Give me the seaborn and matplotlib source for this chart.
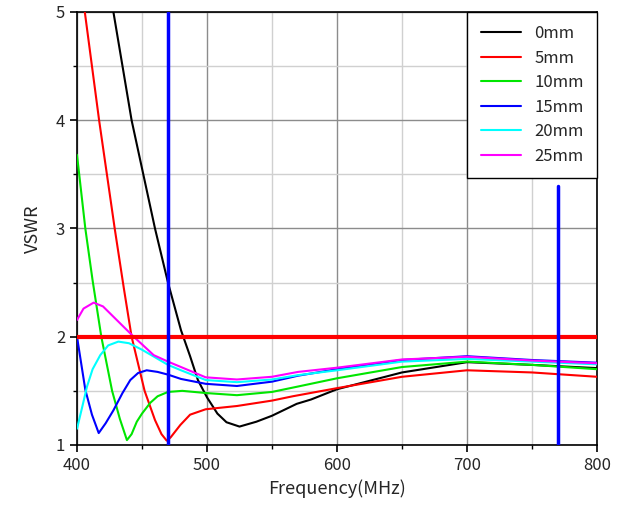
import numpy as np
import pandas as pd
import matplotlib
matplotlib.use("Agg")
import matplotlib.pyplot as plt
import seaborn as sns
from matplotlib.ticker import MultipleLocator

# ── data ────────────────────────────────────────────────────
labels = ["0mm", "5mm", "10mm", "15mm", "20mm", "25mm"]
colors = ["#000000", "#ff0000", "#00e600", "#0000ff", "#00ffff", "#ff00ff"]

freq_0 = [428, 435, 442, 451, 460, 470, 480, 487, 493, 500, 508, 515, 525, 538, 550, 569, 580, 600, 650, 700, 750, 800]
vswr_0 = [5.0, 4.5, 4.0, 3.5, 3.0, 2.5, 2.06, 1.82, 1.60, 1.44, 1.29, 1.21, 1.17, 1.215, 1.27, 1.38, 1.42, 1.515, 1.67, 1.765, 1.74, 1.71]

freq_5 = [406, 411.5, 417, 423, 429, 436, 442, 452, 460, 465, 469, 472, 479.5, 487, 499, 523, 550, 566, 600, 650, 700, 750, 800]
vswr_5 = [5.0, 4.5, 4.0, 3.5, 3.0, 2.45, 2.0, 1.5, 1.23, 1.1, 1.04, 1.07, 1.185, 1.28, 1.33, 1.36, 1.41, 1.45, 1.525, 1.63, 1.69, 1.67, 1.63]

freq_10 = [400, 406.4, 412, 418.7, 427, 433, 438.4, 442, 446, 450, 456.4, 462, 470, 481, 499, 523, 550, 570, 600, 650, 700, 750, 800]
vswr_10 = [3.68, 3.0, 2.52, 2.0, 1.5, 1.24, 1.045, 1.10, 1.215, 1.29, 1.39, 1.45, 1.49, 1.50, 1.48, 1.46, 1.49, 1.54, 1.616, 1.72, 1.77, 1.74, 1.70]

freq_15 = [400, 406.4, 411.5, 416.7, 422, 428, 435, 441, 447, 453.6, 462, 470, 480, 499, 523, 550, 570, 600, 650, 700, 750, 800]
vswr_15 = [2.0, 1.51, 1.28, 1.11, 1.20, 1.32, 1.48, 1.60, 1.665, 1.69, 1.675, 1.65, 1.61, 1.565, 1.545, 1.585, 1.64, 1.70, 1.785, 1.82, 1.785, 1.76]

freq_20 = [400, 404, 407.7, 412, 417.9, 424, 431.8, 440, 450, 460, 470, 480, 499, 523, 550, 570, 600, 650, 700, 750, 800]
vswr_20 = [1.15, 1.35, 1.54, 1.70, 1.83, 1.92, 1.955, 1.94, 1.88, 1.81, 1.74, 1.69, 1.60, 1.58, 1.605, 1.645, 1.69, 1.77, 1.795, 1.77, 1.745]

freq_25 = [400, 405, 412.8, 420, 428, 436, 443.6, 450, 459, 470, 480, 499, 523, 550, 570, 600, 650, 700, 750, 800]
vswr_25 = [2.155, 2.26, 2.315, 2.28, 2.185, 2.09, 2.0, 1.93, 1.83, 1.77, 1.72, 1.625, 1.605, 1.63, 1.675, 1.714, 1.79, 1.815, 1.78, 1.755]

limit_vswr = 2.0
band_lo, band_hi = 470, 770
band_hi_top = 3.39

freqs = [freq_0, freq_5, freq_10, freq_15, freq_20, freq_25]
vswrs = [vswr_0, vswr_5, vswr_10, vswr_15, vswr_20, vswr_25]

df = pd.concat(
    [pd.DataFrame({"Frequency": f, "VSWR": v, "gap": lab})
     for f, v, lab in zip(freqs, vswrs, labels)],
    ignore_index=True,
)

# ── style ───────────────────────────────────────────────────
sns.set_style("white")
plt.rcParams["font.family"] = ["Noto Sans CJK JP", "DejaVu Sans"]

fig = plt.figure(figsize=(6.24, 5.12), dpi=100)
ax = fig.add_axes([0.1234, 0.1309, 0.8333, 0.8457])

ax.xaxis.set_major_locator(MultipleLocator(100))
ax.xaxis.set_minor_locator(MultipleLocator(50))
ax.yaxis.set_major_locator(MultipleLocator(1))
ax.yaxis.set_minor_locator(MultipleLocator(0.5))
ax.grid(which="major", color="#8c8c8c", lw=1.0)
ax.grid(which="minor", color="#d0d0d0", lw=1.0)
ax.set_axisbelow(True)

sns.lineplot(data=df, x="Frequency", y="VSWR", hue="gap",
             hue_order=labels, palette=colors, lw=1.5,
             estimator=None, sort=True, ax=ax, zorder=3)

# reference lines (drawn over the curves)
ax.axhline(limit_vswr, color="#ff0000", lw=3, zorder=5)
ax.axvline(band_lo, color="#0000ff", lw=2.5, zorder=5)
ax.plot([band_hi, band_hi], [1, band_hi_top], color="#0000ff", lw=2.5, zorder=5)

ax.set_xlim(400, 800)
ax.set_ylim(1, 5)
ax.set_xlabel("Frequency(MHz)", fontsize=13)
ax.set_ylabel("VSWR", fontsize=13, labelpad=10)

for s in ax.spines.values():
    s.set_color("black")
    s.set_linewidth(1.2)
ax.tick_params(which="major", direction="out", length=5, width=1.2,
               labelsize=12, bottom=True, left=True, color="black")
ax.tick_params(which="minor", direction="out", length=3, width=1.0,
               bottom=True, left=True, color="black")

leg = ax.legend(loc="upper right", borderaxespad=0, fontsize=12,
                frameon=True, fancybox=False, framealpha=1,
                edgecolor="black", handlelength=2.4, borderpad=0.8,
                labelspacing=0.45)
leg.set_zorder(10)
leg.get_frame().set_linewidth(1.0)
for line in leg.get_lines():
    line.set_linewidth(1.5)

plt.savefig("out.png", dpi=100)
